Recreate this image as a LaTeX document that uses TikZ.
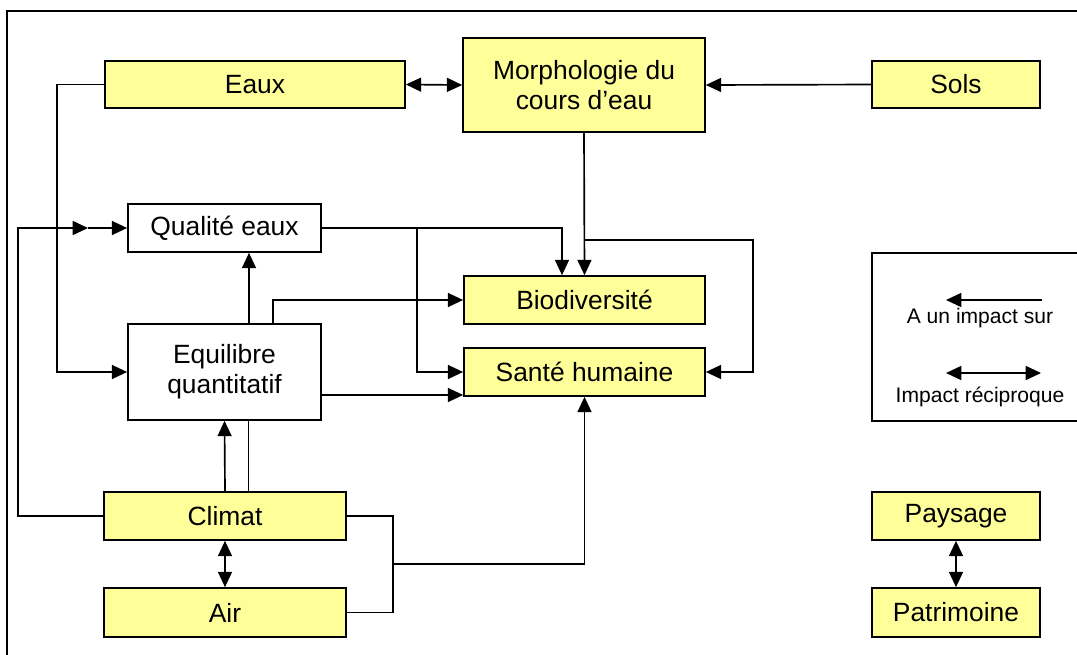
\documentclass[tikz,border=0pt]{standalone}
\usepackage{fontspec}
\setmainfont{Liberation Sans}
\usetikzlibrary{arrows.meta,calc}
\definecolor{boxyellow}{HTML}{FFFF99}
\begin{document}
\begin{tikzpicture}[x=0.75pt,y=-0.75pt,
  line width=1.25pt,
  base/.style={draw,rectangle,inner sep=1pt,align=center,line width=1.25pt,
    font=\fontsize{19.8}{22.5}\selectfont},
  ybox/.style={base,fill=boxyellow},
  wbox/.style={base,fill=white},
  arr/.style={-{Triangle[length=11.5pt,width=10.5pt]}},
  darr/.style={{Triangle[length=11.5pt,width=10.5pt]}-{Triangle[length=11.5pt,width=10.5pt]}},
  legtext/.style={font=\fontsize{15.8}{18}\selectfont,inner sep=0pt}]
\useasboundingbox (0,0) rectangle (1077,654);
\clip (0,0) rectangle (1077,654);
% frame
\draw[line width=1.6pt] (7,670) -- (7,11) -- (1090,11);
% nodes
\node[ybox,minimum width=225pt,minimum height=35.25pt] (eaux) at (255,84.5) {Eaux};
\node[ybox,minimum width=181.5pt,minimum height=70.5pt] (morph) at (584,85) {Morphologie du\\cours d’eau};
\node[ybox,minimum width=126pt,minimum height=35.25pt] (sols) at (956,84.5) {Sols};
\node[wbox,minimum width=144.75pt,minimum height=36pt] (qual) at (224.5,228) {Qualité eaux};
\node[wbox,minimum width=144.75pt,minimum height=72pt] (equi) at (224.5,372) {Equilibre\\quantitatif};
\node[ybox,minimum width=180.75pt,minimum height=36pt] (bio) at (584.5,300) {Biodiversité};
\node[ybox,minimum width=180.75pt,minimum height=36pt] (sante) at (584.5,372) {Santé humaine};
\node[ybox,minimum width=181.5pt,minimum height=36pt] (climat) at (225,516) {Climat};
\node[ybox,minimum width=181.5pt,minimum height=36.75pt] (air) at (225,612.5) {Air};
\node[ybox,minimum width=126pt,minimum height=36pt] (pays) at (956,516) {Paysage};
\node[ybox,minimum width=126pt,minimum height=36.75pt] (patri) at (956,612.5) {Patrimoine};
% legend
\draw (1090,253) -- (872,253) -- (872,421) -- (1090,421);
\node[legtext] (leg1) at (980,318) {A un impact sur};
\node[legtext] (leg2) at (980,397) {Impact réciproque};
\coordinate (l1a) at (1042,300);
\coordinate (l1b) at (946,300);
\coordinate (l2a) at (946,373);
\coordinate (l2b) at (1041,373);
\draw[arr] (l1a) -- (l1b);
\draw[darr] (l2a) -- (l2b);
% connectors top
\draw[darr] (eaux.east) -- (morph.west);
\draw[arr] (sols.west) -- (morph.east);
\draw[arr] (morph.south) -- (bio.north);
\coordinate (m1) at (584,240);
\coordinate (m2) at (753,240);
\draw[arr] (m1) -- (m2) |- (sante.east);
% qualite
\coordinate (q1) at (562,228);
\draw[arr] (qual.east) -- (q1) -- ($(bio.north)+(-22.5,0)$);
\coordinate (q2) at (417,228);
\draw[arr] (q2) |- (sante.west);
% equilibre
\draw[arr] ($(equi.north)+(24.5,0)$) -- ($(qual.south)+(24.5,0)$);
\draw[arr] ($(equi.north)+(48.5,0)$) |- (bio.west);
\draw[arr] ($(equi.east)+(0,23)$) -- ($(sante.west)+(0,23)$);
% eaux to equilibre
\coordinate (e1) at (57,84.5);
\draw[arr] (eaux.west) -- (e1) |- (equi.west);
% climat to qualite
\coordinate (c1) at (18,516);
\coordinate (c2) at (88,228);
\draw[arr] (climat.west) -- (c1) |- (c2);
\draw[arr] (c2) -- (qual.west);
% climat to equilibre
\draw[arr] (climat.north) -- (equi.south);
\draw ($(climat.north)+(23.5,0)$) -- ($(equi.south)+(24,0)$);
% climat - air
\draw[darr] (climat.south) -- (air.north);
\coordinate (a1) at (393,564);
\draw (climat.east) -| (a1) |- (air.east);
\draw[arr] (a1) -| (sante.south);
% paysage - patrimoine
\draw[darr] (pays.south) -- (patri.north);
\end{tikzpicture}
\end{document}
